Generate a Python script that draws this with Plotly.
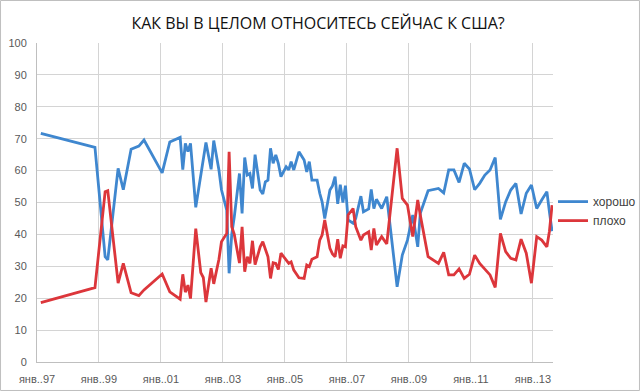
import plotly.graph_objects as go

title = "КАК ВЫ В ЦЕЛОМ ОТНОСИТЕСЬ СЕЙЧАС К США?"

dates = [
    "1997-02-15", "1998-11-15", "1999-03-15", "1999-04-15", "1999-08-15", "1999-10-15",
    "2000-01-15", "2000-04-15", "2000-06-15", "2001-01-15", "2001-04-15", "2001-08-15",
    "2001-09-15", "2001-10-15", "2001-11-15", "2001-12-15", "2002-02-15", "2002-04-15",
    "2002-05-15", "2002-06-15", "2002-08-15", "2002-09-15", "2002-11-15", "2002-12-15",
    "2003-02-15", "2003-03-15", "2003-04-15", "2003-05-15", "2003-07-15", "2003-08-15",
    "2003-09-15", "2003-10-15", "2003-11-15", "2003-12-15", "2004-01-15", "2004-03-15",
    "2004-04-15", "2004-05-15", "2004-06-15", "2004-07-15", "2004-08-15", "2004-09-15",
    "2004-10-15", "2004-11-15", "2005-01-15", "2005-02-15", "2005-03-15", "2005-04-15",
    "2005-06-15", "2005-08-15", "2005-09-15", "2005-10-15", "2005-11-15", "2006-01-15",
    "2006-02-15", "2006-03-15", "2006-04-15", "2006-06-15", "2006-07-15", "2006-08-15",
    "2006-09-15", "2006-10-15", "2006-11-15", "2006-12-15", "2007-01-15", "2007-03-15",
    "2007-04-15", "2007-06-15", "2007-07-15", "2007-09-15", "2007-10-15", "2007-11-15",
    "2007-12-15", "2008-02-15", "2008-04-15", "2008-08-15", "2008-10-15", "2008-12-15",
    "2009-02-15", "2009-04-15", "2009-05-15", "2009-08-15", "2009-12-15", "2010-02-15",
    "2010-04-15", "2010-06-15", "2010-08-15", "2010-10-15", "2010-12-15", "2011-02-15",
    "2011-04-15", "2011-06-15", "2011-08-15", "2011-10-15", "2011-12-15", "2012-02-15",
    "2012-04-15", "2012-06-15", "2012-08-15", "2012-10-15", "2012-12-15", "2013-02-15",
    "2013-04-15", "2013-06-15", "2013-07-15", "2013-08-15",
]

good = [
    71.7, 67.3, 33.0, 32.0, 60.7, 54.0,
    66.7, 67.7, 69.6, 59.3, 69.0, 70.4,
    60.3, 68.5, 66.0, 68.5, 48.5, 59.0,
    63.5, 68.8, 60.4, 69.4, 60.2, 54.0,
    47.6, 27.8, 40.0, 45.5, 59.1, 46.6,
    64.1, 58.6, 59.1, 54.4, 65.0, 53.9,
    52.7, 56.5, 57.0, 67.0, 62.3, 64.9,
    62.3, 58.1, 61.2, 60.2, 62.8, 60.2,
    65.9, 63.3, 59.6, 62.8, 57.0, 57.0,
    52.9, 50.2, 45.0, 53.9, 55.2, 58.1,
    49.6, 55.6, 50.0, 55.3, 44.5, 43.5,
    45.0, 52.0, 47.1, 48.0, 54.1, 48.1,
    51.0, 48.1, 51.8, 23.6, 33.5, 38.2,
    46.1, 36.1, 46.6, 53.7, 54.4, 53.0,
    60.2, 60.2, 56.3, 62.3, 60.5, 54.0,
    56.0, 58.6, 60.2, 64.1, 44.7, 50.2,
    53.9, 56.0, 46.4, 52.9, 55.5, 48.1,
    50.8, 53.4, 47.0, 41.0,
]

bad = [
    18.6, 23.3, 53.4, 53.7, 24.7, 30.9,
    21.7, 20.8, 22.6, 27.6, 22.0, 19.7,
    27.5, 21.9, 24.1, 19.9, 41.8, 28.0,
    26.5, 18.8, 29.4, 24.5, 32.2, 37.7,
    40.3, 65.9, 42.4, 40.0, 31.0, 42.4,
    28.3, 33.0, 30.9, 38.0, 30.5, 36.1,
    37.7, 35.6, 33.0, 26.2, 31.1, 30.9,
    29.0, 34.1, 32.2, 30.9, 31.4, 28.8,
    26.4, 26.2, 30.4, 29.9, 32.2, 33.0,
    38.2, 39.8, 44.5, 35.6, 33.9, 33.0,
    38.5, 32.5, 36.4, 36.1, 46.1, 48.1,
    42.4, 38.2, 39.8, 40.8, 35.1, 41.9,
    36.7, 39.3, 37.0, 67.0, 51.3, 49.2,
    39.3, 50.8, 46.1, 33.0, 30.9, 34.4,
    27.3, 27.3, 29.2, 26.2, 27.5, 33.5,
    30.9, 29.0, 27.3, 23.4, 40.3, 34.6,
    32.5, 32.0, 38.5, 34.1, 24.7, 39.3,
    38.2, 36.1, 41.0, 49.2,
]

tick_dates = ["1997-01-01", "1999-01-01", "2001-01-01", "2003-01-01", "2005-01-01",
              "2007-01-01", "2009-01-01", "2011-01-01", "2013-01-01"]
tick_labels = ["янв..97", "янв..99", "янв..01", "янв..03", "янв..05",
               "янв..07", "янв..09", "янв..11", "янв..13"]
y_ticks = [0, 10, 20, 30, 40, 50, 60, 70, 80, 90, 100]

series_names = ["хорошо", "плохо"]
colors = ["#3f87cf", "#dc363b"]

fig = go.Figure()
for name, vals, col in zip(series_names, [good, bad], colors):
    fig.add_trace(go.Scatter(
        x=dates, y=vals, mode="lines", name=name,
        line=dict(color=col, width=2.8),
    ))

grid = "#d4d4d4"
fig.update_layout(
    width=640, height=391,
    margin=dict(l=37, r=87, t=43, b=29, autoexpand=False),
    paper_bgcolor="white", plot_bgcolor="white",
    font=dict(family="Liberation Sans, Arial, sans-serif", size=11, color="#595959"),
    title=dict(text=title, x=0.497, xanchor="center", y=0.941, yanchor="middle",
               font=dict(family="Open Sans, sans-serif", size=16, color="#111111")),
    showlegend=True,
    legend=dict(x=1.0, xanchor="left", y=0.473, yanchor="middle",
                font=dict(size=12, color="#404040"),
                itemwidth=30, tracegroupgap=4, bgcolor="rgba(0,0,0,0)"),
    xaxis=dict(
        type="date", range=["1997-01-01", "2013-08-26"],
        tickmode="array", tickvals=tick_dates, ticktext=tick_labels,
        showgrid=True, gridcolor=grid, gridwidth=1,
        showline=True, linecolor="#bfbfbf", linewidth=1,
        ticks="", zeroline=False, tickfont=dict(size=11, color="#595959"),
        ticklabelstandoff=7,
    ),
    yaxis=dict(
        range=[0, 100], tickmode="array", tickvals=y_ticks,
        showgrid=True, gridcolor=grid, gridwidth=1,
        showline=True, linecolor="#bfbfbf", linewidth=1,
        ticks="", zeroline=False, tickfont=dict(size=11, color="#595959"),
        ticklabelstandoff=7,
    ),
    shapes=[dict(type="rect", xref="paper", yref="paper",
                 x0=-0.0707, x1=1.1676, y0=-0.0893, y1=1.1332,
                 line=dict(color="#bfbfbf", width=1), fillcolor="rgba(0,0,0,0)",
                 layer="below")],
)

fig.write_html("out.html", config={"displayModeBar": False},
               post_script="document.body.style.margin='0';")
